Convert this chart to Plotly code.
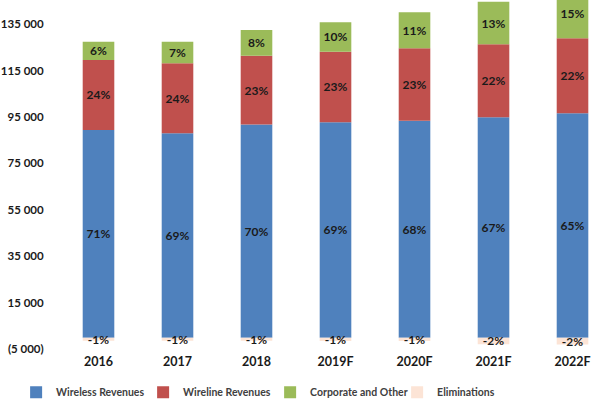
import plotly.graph_objects as go

years = ["2016", "2017", "2018", "2019F", "2020F", "2021F", "2022F"]
wireless = [89400, 88000, 91800, 92700, 93400, 94850, 96600]
wireline = [30100, 30100, 29500, 30400, 31150, 31400, 32300]
corporate = [7900, 9300, 11100, 12650, 15500, 18350, 21000]
eliminations = [-1300, -1300, -1300, -1400, -1400, -2800, -2900]

wireless_lbl = ["71%", "69%", "70%", "69%", "68%", "67%", "65%"]
wireline_lbl = ["24%", "24%", "23%", "23%", "23%", "22%", "22%"]
corporate_lbl = ["6%", "7%", "8%", "10%", "11%", "13%", "15%"]
elim_lbl = ["-1%", "-1%", "-1%", "-1%", "-1%", "-2%", "-2%"]

tick_vals = [-5000, 15000, 35000, 55000, 75000, 95000, 115000, 135000]
tick_text = ["(5 000)", "15 000", "35 000", "55 000", "75 000", "95 000", "115 000", "135 000"]

series = [
    ("Wireless Revenues", wireless, wireless_lbl, "#4F81BD"),
    ("Wireline Revenues", wireline, wireline_lbl, "#C0504D"),
    ("Corporate and Other", corporate, corporate_lbl, "#9BBB59"),
    ("Eliminations", eliminations, elim_lbl, "#FCE4D6"),
]

FONT = "Lato"
fig = go.Figure()
for name, vals, lbl, col in series:
    fig.add_trace(go.Bar(
        x=years, y=vals, name=name, text=lbl,
        textposition="inside", insidetextanchor="middle", textangle=0,
        textfont=dict(family=FONT, size=12, color="#1a1a1a", weight="bold"),
        marker=dict(color=col, line=dict(width=0)),
        hoverinfo="skip",
    ))

fig.update_layout(
    width=597, height=400,
    barmode="relative", bargap=0.6,
    margin=dict(l=0, r=0, t=0, b=0, autoexpand=False),
    plot_bgcolor="white", paper_bgcolor="white",
    uniformtext=dict(minsize=12, mode="show"),
    font=dict(family=FONT, size=11, color="#262626"),
    xaxis=dict(domain=[59 / 597, 1], range=[-0.5, 6.31], showgrid=False, showline=False,
               zeroline=False, automargin=False, ticks="outside", ticklen=1,
               tickcolor="rgba(0,0,0,0)",
               tickfont=dict(family=FONT, size=12.5, color="#1a1a1a", weight="bold")),
    yaxis=dict(domain=[1 - 349.3 / 400, 1], range=[-5000, 145335],
               tickvals=tick_vals, ticktext=tick_text, automargin=False,
               showgrid=False, showline=False, zeroline=False,
               ticks="outside", ticklen=12, tickcolor="rgba(0,0,0,0)",
               tickfont=dict(family=FONT, size=11.5, color="#1a1a1a", weight="bold")),
    legend=dict(orientation="h", x=0.027, xanchor="left", y=-0.017, yanchor="bottom",
                font=dict(family=FONT, size=10.5, color="#404040", weight="bold"),
                traceorder="normal", itemwidth=30, entrywidth=82, entrywidthmode="pixels"),
    showlegend=True,
)

fig.write_html("out.html")
